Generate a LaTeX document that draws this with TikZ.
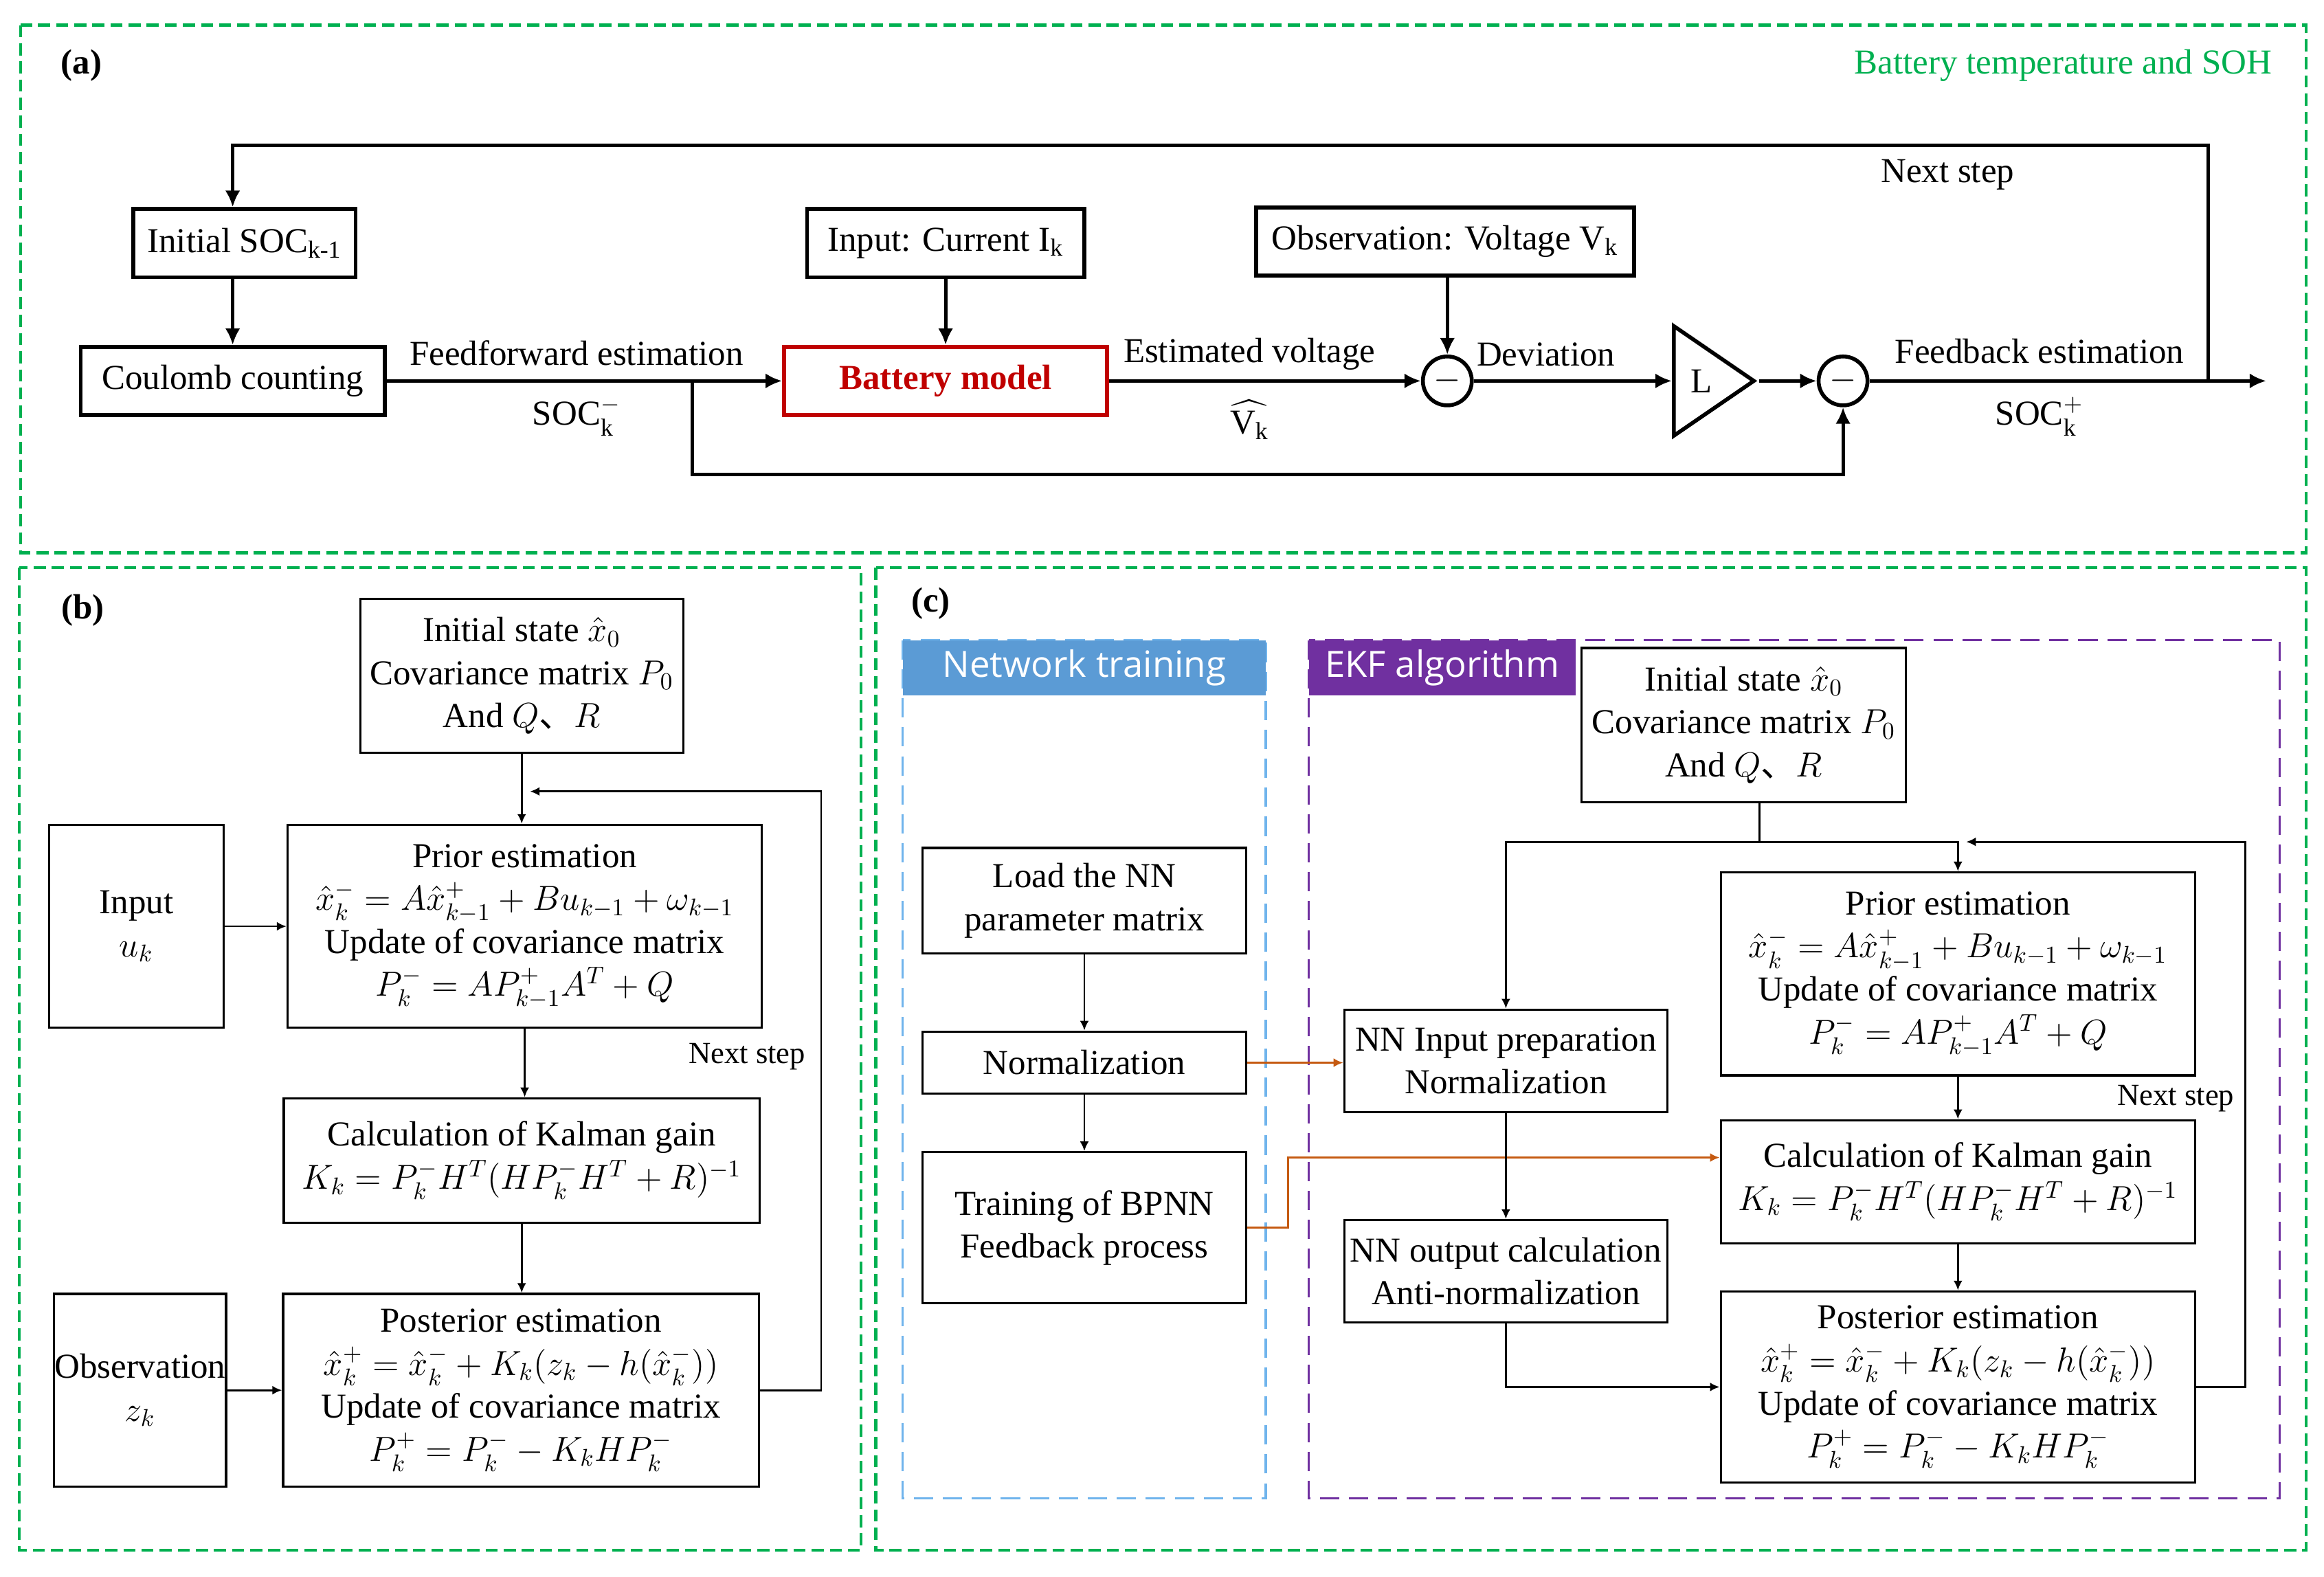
\documentclass[tikz,border=0pt]{standalone}
\usepackage{amsmath, amssymb}
\usepackage{fontspec}
\setmainfont{Liberation Serif}
\newfontfamily\hdfont{Open Sans}
\newfontfamily\cjk{Noto Sans CJK SC}
\usetikzlibrary{arrows.meta, shapes.geometric}

\definecolor{panelgreen}{HTML}{00B050}
\definecolor{modelred}{HTML}{C00000}
\definecolor{trainblue}{HTML}{5B9BD5}
\definecolor{dashblue}{HTML}{70B4EC}
\definecolor{ekfpurple}{HTML}{7030A0}
\definecolor{linkorange}{HTML}{C55A11}

\tikzset{
  sz/.style 2 args={minimum width=#1*0.2157mm, minimum height=#2*0.2157mm},
  boxA/.style={draw, line width=1.6pt, inner sep=0pt, align=center},
  boxB/.style={draw, line width=0.9pt, inner sep=0pt, align=center},
  arA/.style={line width=1.4pt, -{Latex[length=2.4mm,width=2.2mm]}},
  arB/.style={line width=0.8pt, -{Latex[length=1.4mm,width=1.3mm]}},
  arO/.style={line width=0.9pt, draw=linkorange, -{Latex[length=1.4mm,width=1.3mm]}},
  lnB/.style={line width=0.8pt},
  panel/.style={draw=panelgreen, line width=1.3pt, dash pattern=on 5pt off 2.5pt},
  group/.style={line width=0.9pt, dash pattern=on 8pt off 4pt},
  header/.style={text=white, inner sep=0pt, font=\hdfont\fontsize{15}{18}\selectfont},
  steplabel/.style={font=\fontsize{12.7}{15}\selectfont},
}

\begin{document}
\begin{tikzpicture}[x=0.2157mm, y=-0.2157mm]
    \fontsize{14.5}{17.8}\selectfont
    \useasboundingbox (0,0) rectangle (1568,1064);

    % panels
    \draw[panel] (14,17) rectangle (1556,373);
    \draw[panel] (13,383) rectangle (581,1046);
    \draw[panel] (591,383) rectangle (1556,1046);

    % (a) SOC estimation loop
    \node[font=\bfseries] (labA) at (55,44) {(a)};
    \node[text=panelgreen] (sohA) at (1392,44) {Battery temperature and SOH};

    \node[boxA, sz={150}{46}] (initA) at (165,164) {Initial SOC\textsubscript{k-1}};
    \node[boxA, sz={205}{46}] (coulA) at (157,257) {Coulomb counting};
    \node[boxA, sz={187}{46}] (inpA) at (638,164) {Input: Current I\textsubscript{k}};
    \node[boxA, sz={218}{46}, draw=modelred, text=modelred, font=\bfseries] (battA) at (638,257) {Battery model};
    \node[boxA, sz={255}{46}] (obsA) at (975,163) {Observation: Voltage V\textsubscript{k}};
    \node[circle, draw, line width=1.6pt, minimum size=33*0.2157mm, inner sep=0pt] (devA) at (976.5,257) {$-$};
    \node[isosceles triangle, isosceles triangle stretches, draw, line width=1.6pt,
          minimum width=74*0.2157mm, minimum height=54*0.2157mm, inner sep=0pt,
          anchor=lower side] (gainA) at (1128,257) {};
    \node (gainL) at (1148,257) {L};
    \node[circle, draw, line width=1.6pt, minimum size=33*0.2157mm, inner sep=0pt] (corrA) at (1243.5,257) {$-$};

    \coordinate (brA) at (467,257);
    \coordinate (brlowA) at (467,320);
    \coordinate (upA) at (1490,257);
    \coordinate (topA) at (157,98);
    \coordinate (endA) at (1529,257);

    \draw[arA] (initA.south -| coulA.north) -- (coulA.north);
    \draw[arA] (coulA) -- (battA);
    \draw[arA] (inpA) -- (battA);
    \draw[arA] (battA) -- (devA);
    \draw[arA] (obsA.south -| devA.north) -- (devA.north);
    \draw[arA] (devA) -- (gainA.lower side);
    \draw[arA] (gainA.apex) -- (corrA);
    \draw[arA] (corrA) -- (endA);
    \draw[arA] (brA) -- (brlowA) -| (corrA.south);
    \draw[arA] (upA) |- (topA) -- (initA.north -| topA);

    \node (ffA) at (389,238) {Feedforward estimation};
    \node (socmA) at (389,281) {$\mathrm{SOC}_{\mathrm{k}}^{-}$};
    \node (evA) at (843,239) {Estimated voltage};
    \node (vhatA) at (843,283) {$\widehat{\mathrm{V}_{\mathrm{k}}}$};
    \node (devlA) at (1043,239) {Deviation};
    \node (fbA) at (1376,237) {Feedback estimation};
    \node (socpA) at (1376,281) {$\mathrm{SOC}_{\mathrm{k}}^{+}$};
    \node (nextA) at (1314,118) {Next step};

    % (b) Kalman filter
    \node[font=\bfseries] (labB) at (56,412) {(b)};
    \node[boxB, sz={218}{104}] (initB) at (352,456) {Initial state $\hat{x}_0$\\Covariance matrix $P_0$\\And $Q${\cjk 、}$R$};
    \node[boxB, sz={320}{137}] (priorB) at (354,625) {Prior estimation\\$\hat{x}_k^- = A\hat{x}_{k-1}^+ + Bu_{k-1} + \omega_{k-1}$\\Update of covariance matrix\\$P_k^- = AP_{k-1}^+A^T + Q$};
    \node[boxB, sz={118}{137}] (inputB) at (92,625) {Input\\$u_k$};
    \node[boxB, sz={321}{84}] (kalB) at (352,783) {Calculation of Kalman gain\\$K_k = P_k^- H^T (HP_k^- H^T + R)^{-1}$};
    \node[boxB, sz={116}{130}] (obsB) at (94.5,938) {Observation\\$z_k$};
    \node[boxB, sz={321}{130}] (postB) at (351.5,938) {Posterior estimation\\$\hat{x}_k^+ = \hat{x}_k^- + K_k(z_k - h(\hat{x}_k^-))$\\Update of covariance matrix\\$P_k^+ = P_k^- - K_k H P_k^-$};
    \coordinate (fbB) at (554,534);

    \draw[arB] (initB.south) -- (initB.south |- priorB.north);
    \draw[arB] (priorB.south) -- (priorB.south |- kalB.north);
    \draw[arB] (kalB.south) -- (kalB.south |- postB.north);
    \draw[arB] (inputB) -- (priorB);
    \draw[arB] (obsB) -- (postB);
    \draw[arB] (postB.east) -| (fbB) -- ([xshift=1.2mm]fbB -| initB.south);
    \node[steplabel] (nextB) at (504,713) {Next step};

    % (c) BPNN + EKF
    \node[font=\bfseries] (labC) at (628,407) {(c)};
    \draw[group, draw=dashblue] (609,432) rectangle (854,1011);
    \draw[group, draw=ekfpurple] (883,432) rectangle (1538,1011);
    \node[header, fill=trainblue, sz={245}{37}] (ntC) at (731.5,450.5) {Network training};
    \node[header, fill=ekfpurple, sz={180}{37}] (ekfC) at (973,450.5) {EKF algorithm};

    \node[boxB, sz={218}{71}] (loadC) at (731.6,607.6) {Load the NN\\parameter matrix};
    \node[boxB, sz={218}{42}] (normC) at (731.6,717) {Normalization};
    \node[boxB, sz={218}{102}] (trainC) at (731.6,828.4) {Training of BPNN\\Feedback process};
    \node[boxB, sz={218}{69}] (nninC) at (1016,715.7) {NN Input preparation\\Normalization};
    \node[boxB, sz={218}{69}] (nnoutC) at (1016,857.7) {NN output calculation\\Anti-normalization};
    \node[boxB, sz={219}{104}] (initC) at (1176.5,489.2) {Initial state $\hat{x}_0$\\Covariance matrix $P_0$\\And $Q${\cjk 、}$R$};
    \node[boxB, sz={320}{137}] (priorC) at (1321,657.1) {Prior estimation\\$\hat{x}_k^- = A\hat{x}_{k-1}^+ + Bu_{k-1} + \omega_{k-1}$\\Update of covariance matrix\\$P_k^- = AP_{k-1}^+A^T + Q$};
    \node[boxB, sz={320}{83}] (kalC) at (1321,797.3) {Calculation of Kalman gain\\$K_k = P_k^- H^T (HP_k^- H^T + R)^{-1}$};
    \node[boxB, sz={320}{129}] (postC) at (1321,935.8) {Posterior estimation\\$\hat{x}_k^+ = \hat{x}_k^- + K_k(z_k - h(\hat{x}_k^-))$\\Update of covariance matrix\\$P_k^+ = P_k^- - K_k H P_k^-$};
    \coordinate (splitC) at (1187,568);
    \coordinate (fbC) at (1515,568);
    \coordinate (orgC) at (869,781);

    \draw[arB] (loadC) -- (normC);
    \draw[arB] (normC) -- (trainC);
    \draw[arO] (normC.east) -- (normC.east -| nninC.west);
    \draw[arO] (trainC.east) -| (orgC) -- (orgC -| kalC.west);
    \draw[lnB] (splitC |- initC.south) -- (splitC);
    \draw[arB] (splitC) -| (nninC.north);
    \draw[arB] (splitC) -| (priorC.north);
    \draw[arB] (nninC) -- (nnoutC);
    \draw[arB] (nnoutC.south) |- (postC.west);
    \draw[arB] (priorC) -- (kalC);
    \draw[arB] (kalC) -- (postC);
    \draw[arB] (postC.east) -| (fbC) -- ([xshift=1.2mm]fbC -| priorC.north);
    \node[steplabel] (nextC) at (1468,741) {Next step};
\end{tikzpicture}
\end{document}
